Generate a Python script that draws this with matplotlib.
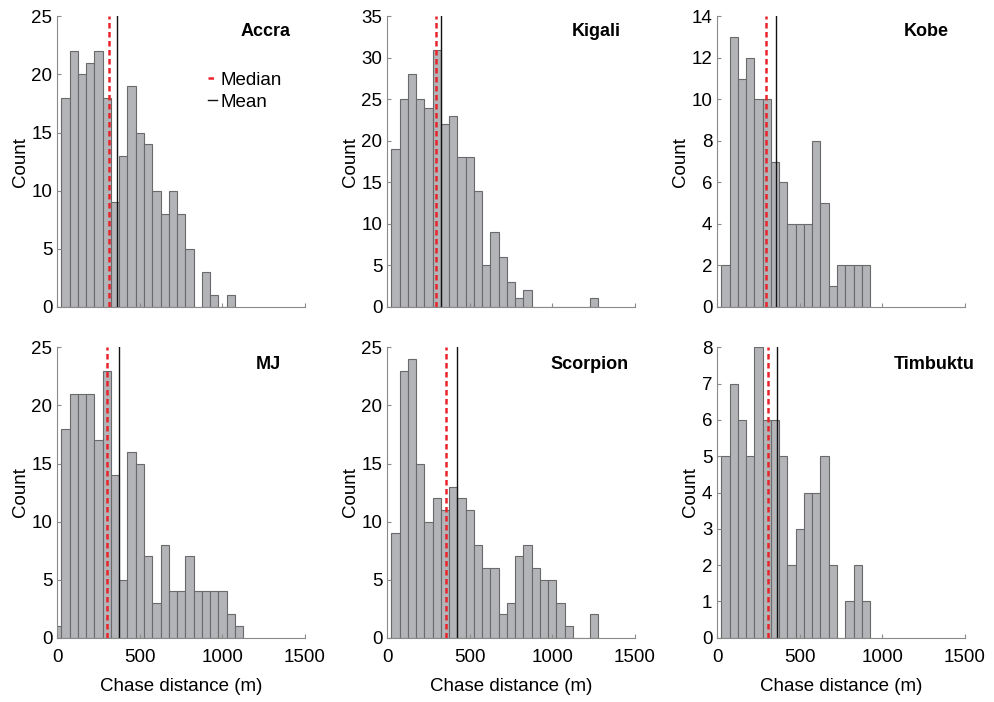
import matplotlib.pyplot as plt
import numpy as np

plt.rcParams['font.family'] = ['Liberation Sans', 'DejaVu Sans']

# histogram counts per 50 m bin, bins centred at 0, 50, 100, ...
names = ['Accra', 'Kigali', 'Kobe', 'MJ', 'Scorpion', 'Timbuktu']
accra = [0, 18, 22, 20, 21, 22, 18, 9, 13, 19, 15, 14, 10, 8, 10, 8, 5, 0, 3, 1, 0, 1]
kigali = [0, 19, 25, 28, 25, 24, 31, 22, 23, 18, 18, 14, 5, 9, 6, 3, 1, 2,
          0, 0, 0, 0, 0, 0, 0, 1]
kobe = [0, 2, 13, 11, 12, 10, 10, 7, 6, 4, 4, 4, 8, 5, 1, 2, 2, 2, 2]
mj = [1, 18, 21, 21, 21, 17, 23, 14, 5, 16, 15, 7, 3, 8, 4, 4, 7, 4, 4, 4, 4, 2, 1]
scorpion = [0, 9, 23, 24, 15, 10, 12, 11, 13, 12, 11, 8, 6, 6, 2, 3, 7, 8, 6, 5, 5,
            3, 1, 0, 0, 2]
timbuktu = [0, 5, 7, 6, 5, 8, 6, 6, 5, 2, 3, 4, 4, 5, 2, 0, 1, 2, 1]
counts = [accra, kigali, kobe, mj, scorpion, timbuktu]

medians = [316, 294, 292, 302, 357, 306]
means = [364, 325, 357, 373, 423, 361]

ymax = [25, 35, 14, 25, 25, 8]
ystep = [5, 5, 2, 5, 5, 1]

bin_width = 50

# layout (figure fractions) and title x-positions in data units
lefts = [0.0576, 0.3892, 0.7209]
bottoms = [0.5631, 0.0916]
w, h = 0.2489, 0.4135
title_x = [1264, 1264, 1267, 1276, 1228, 1312]

bar_face = '#b3b4b8'
bar_edge = '#6a6a6a'
spine_col = '#8a8a8a'
fs = 13.5

fig = plt.figure(figsize=(9.95, 7.02), dpi=100)

for i, name in enumerate(names):
    r, c = divmod(i, 3)
    ax = fig.add_axes([lefts[c], bottoms[r], w, h])
    vals = np.array(counts[i])
    centers = np.arange(len(vals)) * bin_width
    ax.bar(centers, vals, width=bin_width, color=bar_face, edgecolor=bar_edge,
           linewidth=0.8, zorder=1)
    med = ax.axvline(medians[i], color='#e8242a', lw=1.8, ls=(0, (2.2, 1.4)), zorder=3)
    mn = ax.axvline(means[i], color='#111111', lw=1.0, zorder=2)

    ax.set_xlim(0, 1500)
    ax.set_ylim(0, ymax[i])
    ax.set_xticks([0, 500, 1000, 1500])
    ax.set_yticks(np.arange(0, ymax[i] + 1, ystep[i]))
    for s in ['top', 'right']:
        ax.spines[s].set_visible(False)
    for s in ['left', 'bottom']:
        ax.spines[s].set_color(spine_col)
        ax.spines[s].set_linewidth(0.8)
    ax.tick_params(direction='in', length=3, width=0.8, color=spine_col,
                   labelsize=fs)
    ax.tick_params(axis='x', pad=8)
    ax.tick_params(axis='y', pad=3.5)
    if r == 0:
        ax.tick_params(labelbottom=False)
    else:
        ax.set_xlabel('Chase distance (m)', fontsize=fs, labelpad=9)
    ax.set_ylabel('Count', fontsize=fs, labelpad=2)

    ty = 0.948 if r == 0 else 0.94
    ax.text(title_x[i], ty, name, transform=ax.get_xaxis_transform(),
            ha='center', va='center', fontsize=13, fontweight='bold')

    if i == 0:
        ax.legend([med, mn], ['Median', 'Mean'], loc='upper left',
                  bbox_to_anchor=(0.608, 0.809), frameon=False, fontsize=fs,
                  handlelength=0.48, handletextpad=0.2, labelspacing=0.25,
                  borderpad=0, borderaxespad=0)

fig.savefig('out.png', dpi=100)
